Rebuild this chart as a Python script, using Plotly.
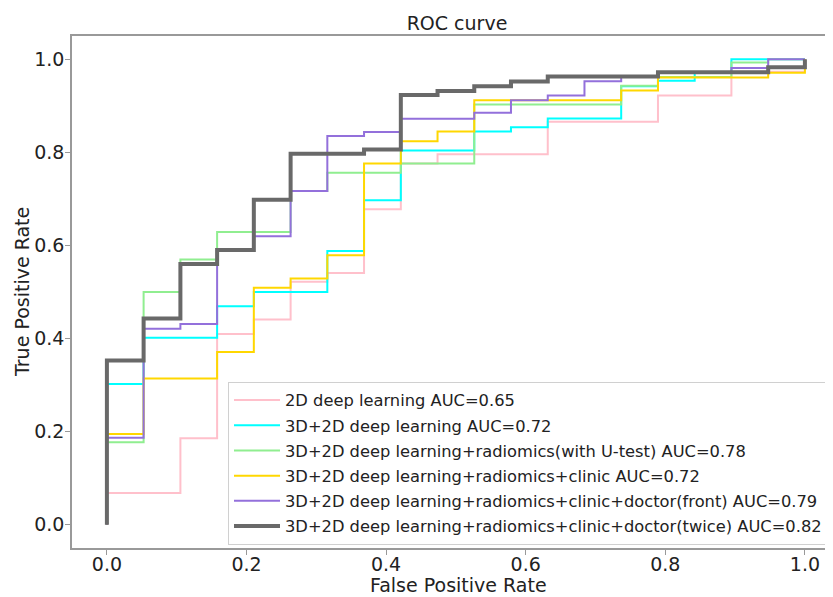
import plotly.graph_objects as go

# ---- data (ROC step points, drawn with hv steps) ----
names = [
    "2D deep learning AUC=0.65",
    "3D+2D deep learning AUC=0.72",
    "3D+2D deep learning+radiomics(with U-test) AUC=0.78",
    "3D+2D deep learning+radiomics+clinic AUC=0.72",
    "3D+2D deep learning+radiomics+clinic+doctor(front) AUC=0.79",
    "3D+2D deep learning+radiomics+clinic+doctor(twice) AUC=0.82",
]

fpr_2d = [0, 0, 0.1053, 0.1579, 0.2105, 0.2632, 0.3158, 0.3684, 0.4211, 0.4737, 0.6316, 0.7895, 0.8947, 1.0]
tpr_2d = [0, 0.068, 0.186, 0.410, 0.441, 0.522, 0.541, 0.678, 0.776, 0.796, 0.866, 0.922, 0.973, 1.0]

fpr_3d2d = [0, 0, 0.0526, 0.1579, 0.2105, 0.3158, 0.3684, 0.4211, 0.5263, 0.5789, 0.6316, 0.7368, 0.7895, 0.8421, 0.8947, 1.0]
tpr_3d2d = [0, 0.3025, 0.4015, 0.4695, 0.500, 0.588, 0.697, 0.804, 0.845, 0.854, 0.873, 0.942, 0.954, 0.971, 1.0, 1.0]

fpr_utest = [0, 0, 0.0526, 0.1053, 0.1579, 0.2632, 0.3158, 0.4211, 0.5263, 0.7368, 0.7895, 0.8947, 0.9474, 1.0]
tpr_utest = [0, 0.177, 0.500, 0.570, 0.629, 0.717, 0.756, 0.776, 0.903, 0.943, 0.962, 0.993, 1.0, 1.0]

fpr_clinic = [0, 0, 0.0526, 0.1579, 0.2105, 0.2632, 0.3158, 0.3684, 0.4211, 0.4737, 0.5263, 0.7368, 0.7895, 0.9474, 1.0]
tpr_clinic = [0, 0.195, 0.314, 0.371, 0.509, 0.529, 0.579, 0.776, 0.824, 0.845, 0.912, 0.933, 0.961, 0.971, 1.0]

fpr_front = [0, 0, 0.0526, 0.1053, 0.1579, 0.2105, 0.2632, 0.3158, 0.3684, 0.4211, 0.5263, 0.5789, 0.6316, 0.6842, 0.7368, 0.7895, 0.8947, 0.9474, 1.0]
tpr_front = [0, 0.187, 0.421, 0.431, 0.590, 0.620, 0.717, 0.835, 0.844, 0.872, 0.885, 0.912, 0.922, 0.953, 0.962, 0.971, 0.981, 1.0, 1.0]

fpr_twice = [0, 0, 0.0526, 0.1053, 0.1579, 0.2105, 0.2632, 0.3684, 0.4211, 0.4737, 0.5263, 0.5789, 0.6316, 0.7895, 0.9474, 1.0]
tpr_twice = [0, 0.353, 0.443, 0.560, 0.590, 0.698, 0.797, 0.806, 0.923, 0.932, 0.942, 0.952, 0.963, 0.972, 0.983, 1.0]

x_ticks = [0.0, 0.2, 0.4, 0.6, 0.8, 1.0]
y_ticks = [0.0, 0.2, 0.4, 0.6, 0.8, 1.0]

colors = ["#FFC0CB", "#00FFFF", "#90EE90", "#FFD700", "#9370DB", "#696969"]
widths = [2, 2, 2, 2, 2, 4]

series = [
    (fpr_2d, tpr_2d),
    (fpr_3d2d, tpr_3d2d),
    (fpr_utest, tpr_utest),
    (fpr_clinic, tpr_clinic),
    (fpr_front, tpr_front),
    (fpr_twice, tpr_twice),
]

FONT = "DejaVu Sans"
TXT = "#222222"

fig = go.Figure()
for i, ((fx, fy), name) in enumerate(zip(series, names)):
    fig.add_trace(go.Scatter(
        x=fx, y=fy, mode="lines", name=name,
        line=dict(color=colors[i], width=widths[i], shape="hv"),
        legendgroup=f"g{i}",
    ))

# page has an 8px body margin: figure pixel = reference pixel - 8
OFF = 8
W, H = 833 - 2 * OFF, 597 - OFF
L, T = 72 - OFF, 36 - OFF
B = H - (548 - OFF)
PW, PH = W - L, H - T - B


def px_x(p):
    return (p - OFF - L) / PW


def px_y(p):
    return (H - B - (p - OFF)) / PH


fig.update_layout(
    width=W, height=H,
    margin=dict(l=L, r=0, t=T, b=B, autoexpand=False),
    paper_bgcolor="white", plot_bgcolor="white",
    font=dict(family=FONT, color=TXT),
    title=dict(text="ROC curve", font=dict(family=FONT, size=19, color=TXT),
               xref="paper", yref="container", x=px_x(457), y=1 - (23 - OFF) / H,
               xanchor="center", yanchor="middle"),
    showlegend=True,
    legend=dict(
        x=px_x(228), y=px_y(382),
        xanchor="left", yanchor="top",
        bgcolor="rgba(255,255,255,0.8)", bordercolor="#d0d0d0", borderwidth=1,
        font=dict(family=FONT, size=16.3, color=TXT),
        traceorder="grouped", tracegroupgap=1, itemwidth=46,
    ),
    xaxis=dict(
        range=[-0.05, -0.05 + PW / 698.0],
        tickvals=x_ticks, ticktext=[f"{v:.1f}" for v in x_ticks],
        ticks="outside", ticklen=5, tickcolor="#999999",
        ticklabelstandoff=-7,
        showline=True, linecolor="#999999", linewidth=1.5, mirror=True,
        showgrid=False, zeroline=False,
        tickfont=dict(family=FONT, size=19, color=TXT),
        automargin=False,
    ),
    yaxis=dict(
        range=[-0.05, 1.05],
        tickvals=y_ticks, ticktext=[f"{v:.1f}" for v in y_ticks],
        ticks="outside", ticklen=5, tickcolor="#999999",
        ticklabelstandoff=-3,
        showline=True, linecolor="#999999", linewidth=1.5, mirror=False,
        showgrid=False, zeroline=False,
        tickfont=dict(family=FONT, size=19, color=TXT),
        automargin=False,
    ),
    annotations=[
        dict(text="False Positive Rate", xref="paper", yref="paper",
             x=px_x(458), y=px_y(585), xanchor="center", yanchor="middle",
             showarrow=False, font=dict(family=FONT, size=19, color=TXT)),
        dict(text="True Positive Rate", xref="paper", yref="paper", textangle=-90,
             x=px_x(22), y=px_y(292), xanchor="center", yanchor="middle",
             showarrow=False, font=dict(family=FONT, size=19, color=TXT)),
    ],
)

fig.write_html("out.html")
